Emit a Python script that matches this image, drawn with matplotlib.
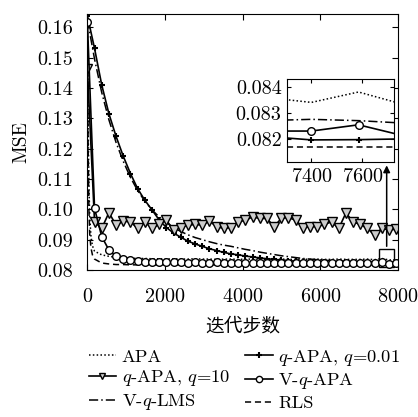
import numpy as np
import matplotlib
matplotlib.use('Agg')
import matplotlib.pyplot as plt
from matplotlib.lines import Line2D
from matplotlib.patches import Rectangle
from matplotlib.ticker import FormatStrFormatter

plt.rcParams['font.family'] = ['cmr10', 'DejaVu Serif']
plt.rcParams['mathtext.fontset'] = 'cm'
plt.rcParams['axes.formatter.use_mathtext'] = True

# sample grid of the marked curves (iterations)
steps = np.arange(0, 8000, 185)
# the fast curves (APA, RLS) have a few extra points right at the start
head_steps = [0, 20, 40, 60, 90, 130]

apa_head = [0.1620, 0.1280, 0.1080, 0.0980, 0.0915, 0.0880]
apa = [0.0862, 0.0850, 0.0845, 0.0842, 0.0840, 0.0839, 0.0838, 0.0838, 0.0837, 0.0837,
       0.0836, 0.0837, 0.0836, 0.0836, 0.0837, 0.0836, 0.0836, 0.0835, 0.0836, 0.0836,
       0.0835, 0.0836, 0.0836, 0.0835, 0.0836, 0.0835, 0.0836, 0.0835, 0.0835, 0.0836,
       0.0835, 0.0836, 0.0835, 0.0835, 0.0836, 0.0835, 0.0835, 0.0835, 0.0836, 0.0834,
       0.0838, 0.0833, 0.0834]

rls_head = [0.1620, 0.1200, 0.1000, 0.0920, 0.0875, 0.0850]
rls = [0.0836, 0.0823, 0.0820, 0.0818, 0.0818, 0.0817, 0.0817, 0.0817, 0.0817, 0.0817,
       0.0817, 0.0817, 0.0817, 0.0817, 0.0817, 0.0817, 0.0817, 0.0817, 0.0817, 0.0817,
       0.0817, 0.0817, 0.0817, 0.0817, 0.0817, 0.0817, 0.0817, 0.0817, 0.0817, 0.0817,
       0.0817, 0.0817, 0.0817, 0.0817, 0.0817, 0.0817, 0.0817, 0.0817, 0.0817, 0.0817,
       0.0817, 0.0817, 0.0817]

vqlms = [0.1625, 0.1495, 0.1385, 0.1295, 0.1220, 0.1158, 0.1105, 0.1062, 0.1027, 0.0998,
         0.0975, 0.0956, 0.0940, 0.0927, 0.0916, 0.0907, 0.0900, 0.0893, 0.0887, 0.0882,
         0.0878, 0.0873, 0.0868, 0.0864, 0.0859, 0.0855, 0.0851, 0.0847, 0.0844, 0.0841,
         0.0838, 0.0836, 0.0834, 0.0832, 0.0831, 0.0830, 0.0829, 0.0828, 0.0828, 0.0827,
         0.08275, 0.0827, 0.0826, 0.0826]

qapa_001 = [0.1638, 0.1530, 0.1410, 0.1315, 0.1240, 0.1175, 0.1118, 0.1068, 0.1030, 0.0998,
            0.0965, 0.0940, 0.0922, 0.0908, 0.0895, 0.0886, 0.0878, 0.0870, 0.0864, 0.0858,
            0.0853, 0.0850, 0.0846, 0.0843, 0.0840, 0.0837, 0.0835, 0.0833, 0.0831, 0.0829,
            0.0828, 0.0827, 0.0826, 0.0825, 0.0824, 0.0823, 0.0822, 0.0822, 0.0821, 0.0821,
            0.08196, 0.08197, 0.0820, 0.0820]

qapa_10 = [0.1463, 0.0959, 0.0937, 0.0989, 0.0948, 0.0961, 0.0959, 0.0937, 0.0959, 0.0937,
           0.0950, 0.0964, 0.0932, 0.0940, 0.0948, 0.0950, 0.0948, 0.0961, 0.0943, 0.0937,
           0.0940, 0.0959, 0.0964, 0.0975, 0.0970, 0.0970, 0.0943, 0.0970, 0.0973, 0.0964,
           0.0940, 0.0943, 0.0943, 0.0950, 0.0959, 0.0937, 0.0988, 0.0959, 0.0950, 0.0937,
           0.0915, 0.0937, 0.0932, 0.0935]

vqapa = [0.1617, 0.1003, 0.0910, 0.0866, 0.0845, 0.0836, 0.0832, 0.0830, 0.0828, 0.0827,
         0.0826, 0.0826, 0.0825, 0.0825, 0.0824, 0.0825, 0.0824, 0.0824, 0.0825, 0.0824,
         0.0823, 0.0824, 0.0824, 0.0823, 0.0824, 0.0823, 0.0824, 0.0823, 0.0823, 0.0824,
         0.0823, 0.0823, 0.0824, 0.0823, 0.0822, 0.0823, 0.0824, 0.0823, 0.0822, 0.0823,
         0.0823, 0.08254, 0.0821, 0.0822]

labels = ['APA', r'$q$-APA, $q$=0.01', r'$q$-APA, $q$=10',
          r'V-$q$-APA', r'V-$q$-LMS', 'RLS']

fast_x = list(head_steps) + list(steps[1:])

styles = {
    'apa': dict(color='black', lw=1.1, ls=(0, (1, 1.5))),
    'rls': dict(color='black', lw=1.1, ls=(0, (4, 2.5))),
    'vqlms': dict(color='black', lw=1.1, ls=(0, (6, 2, 1, 2))),
    'q001': dict(color='black', lw=1.2, marker='+', ms=5, mew=1.5),
    'q10': dict(color='black', lw=1.2, marker='v', ms=6.5, mfc='0.8', mec='black', mew=1.0),
    'vqapa': dict(color='black', lw=1.2, marker='o', ms=5.5, mfc='white', mec='black', mew=1.0),
}


def draw(a):
    a.plot(fast_x, apa_head + apa, **styles['apa'])
    a.plot(fast_x, rls_head + rls, **styles['rls'])
    a.plot(steps, vqlms, **styles['vqlms'])
    a.plot(steps, qapa_001, **styles['q001'])
    a.plot(steps, qapa_10, **styles['q10'])
    a.plot(steps, vqapa, **styles['vqapa'])


fig = plt.figure(figsize=(4.18, 4.17), dpi=100)
ax = fig.add_axes([0.209, 0.3525, 0.743, 0.6135])
draw(ax)
ax.set_xlim(0, 8000)
ax.set_ylim(0.08, 0.1643)
ax.set_xticks([0, 2000, 4000, 6000, 8000])
ax.set_yticks(np.arange(0.08, 0.1601, 0.01))
ax.yaxis.set_major_formatter(FormatStrFormatter('%.2f'))
ax.tick_params(direction='in', top=True, right=True, length=4, labelsize=14.5)
ax.tick_params(axis='x', pad=13)
ax.tick_params(axis='y', pad=10)
ax.set_ylabel('MSE', fontsize=14, labelpad=5)
ax.set_xlabel('迭代步数', fontsize=13.5, family=['Noto Sans CJK SC'], labelpad=7)

# zoom box and arrow to the inset
ax.add_patch(Rectangle((7510, 0.0810), 390, 0.0059, fill=False, lw=1.0, color='black'))
ax.annotate('', xy=(7710, 0.1154), xytext=(7710, 0.0869),
            arrowprops=dict(arrowstyle='-|>', color='black', lw=1.1, mutation_scale=10))

ins = fig.add_axes([0.687, 0.6108, 0.256, 0.1998])
draw(ins)
ins.set_xlim(7305, 7725)
ins.set_ylim(0.0811, 0.0843)
ins.set_xticks([7400, 7600])
ins.set_yticks([0.082, 0.083, 0.084])
ins.yaxis.set_major_formatter(FormatStrFormatter('%.3f'))
ins.tick_params(direction='in', top=True, right=True, length=3, labelsize=14.5, pad=4)

handles = [
    Line2D([], [], **styles['apa']),
    Line2D([], [], **dict(styles['q10'], ms=4.5)),
    Line2D([], [], **styles['vqlms']),
    Line2D([], [], **dict(styles['q001'], ms=4)),
    Line2D([], [], **dict(styles['vqapa'], ms=4.5)),
    Line2D([], [], **styles['rls']),
]
order = [labels[0], labels[2], labels[4], labels[1], labels[3], labels[5]]
fig.legend(handles, order, loc='upper left', bbox_to_anchor=(0.212, 0.166), ncol=2,
           frameon=False, fontsize=13.3, handlelength=1.5, handletextpad=0.3,
           columnspacing=0.8, labelspacing=0.2, borderpad=0, borderaxespad=0)

fig.savefig('out.png', dpi=100)
